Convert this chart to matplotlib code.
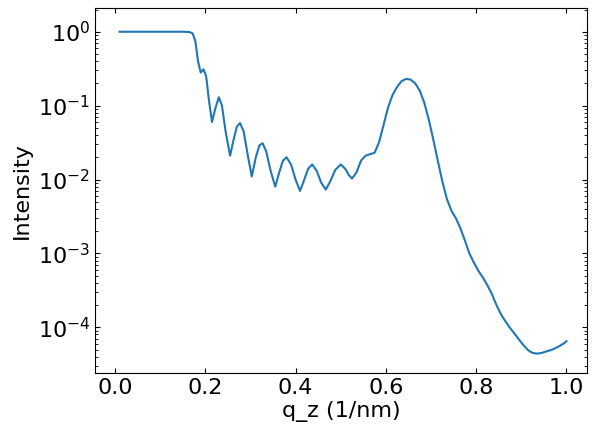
import matplotlib
matplotlib.use("Agg")
import matplotlib.pyplot as plt

# values
q_z = [0.01, 0.05, 0.10, 0.15, 0.165, 0.172, 0.178, 0.184, 0.190, 0.196, 0.202,
       0.208, 0.215, 0.222, 0.230, 0.237, 0.245, 0.255, 0.263, 0.270, 0.277,
       0.285, 0.295, 0.303, 0.312, 0.320, 0.327, 0.335, 0.345, 0.355, 0.363,
       0.372, 0.380, 0.390, 0.400, 0.410, 0.418, 0.428, 0.437, 0.447, 0.457,
       0.467, 0.477, 0.488, 0.500, 0.510, 0.518, 0.525, 0.535, 0.545, 0.555,
       0.565, 0.575, 0.585, 0.595, 0.605, 0.615, 0.625, 0.635, 0.645, 0.655,
       0.665, 0.675, 0.685, 0.695, 0.705, 0.715, 0.725, 0.735, 0.745, 0.755,
       0.765, 0.775, 0.785, 0.795, 0.805, 0.815, 0.825, 0.835, 0.845, 0.855,
       0.865, 0.875, 0.885, 0.895, 0.905, 0.915, 0.925, 0.935, 0.945, 0.955,
       0.965, 0.975, 0.985, 0.995, 1.0]
intensity = [1.0, 1.0, 1.0, 1.0, 0.99, 0.95, 0.75, 0.40, 0.28, 0.31, 0.25,
             0.12, 0.06, 0.09, 0.13, 0.10, 0.045, 0.021, 0.035, 0.052, 0.058,
             0.045, 0.020, 0.011, 0.020, 0.029, 0.031, 0.024, 0.013, 0.008, 0.012,
             0.018, 0.020, 0.016, 0.010, 0.007, 0.0095, 0.014, 0.016, 0.013, 0.0090,
             0.0073, 0.0095, 0.0135, 0.016, 0.014, 0.0115, 0.0103, 0.0125, 0.018, 0.021,
             0.022, 0.023, 0.032, 0.055, 0.095, 0.14, 0.18, 0.215, 0.23, 0.225,
             0.20, 0.16, 0.11, 0.065, 0.035, 0.018, 0.0095, 0.0055, 0.0038, 0.0030,
             0.0022, 0.0015, 0.0010, 0.00075, 0.00058, 0.00047, 0.00037, 0.00028, 0.00020, 0.00015,
             0.00012, 0.000098, 0.000082, 0.000068, 0.000057, 0.000049, 0.000045, 0.000044, 0.000045, 0.000047,
             0.000049, 0.000052, 0.000056, 0.000061, 0.000065]

plt.rcParams["font.size"] = 16
fig, ax = plt.subplots(figsize=(5.98, 4.41), dpi=100)
ax.plot(q_z, intensity, color="#1f77b4", linewidth=1.5)
ax.set_yscale("log")
ax.set_xlim(-0.044, 1.046)
ax.set_ylim(2.4e-5, 2.1)
ax.set_xticks([0.0, 0.2, 0.4, 0.6, 0.8, 1.0])
ax.tick_params(direction="in", which="both", top=True, right=True)
ax.set_xlabel("q_z (1/nm)", labelpad=2)
ax.set_ylabel("Intensity")
fig.subplots_adjust(left=0.159, right=0.982, top=0.982, bottom=0.154)
fig.savefig("out.png", dpi=100)
